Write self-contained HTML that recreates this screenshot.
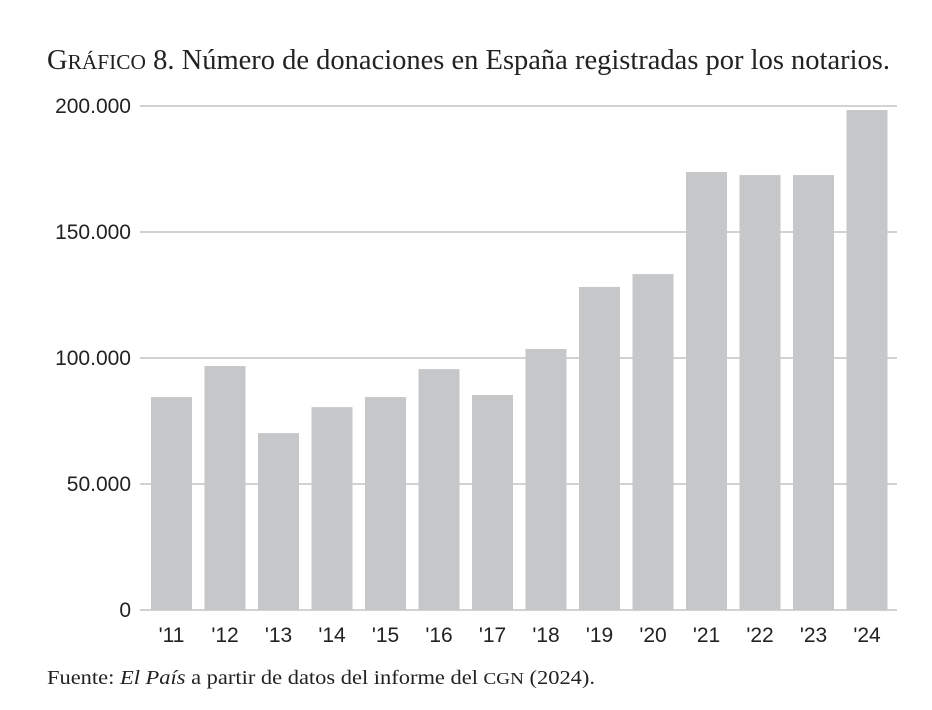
<!DOCTYPE html>
<html><head><meta charset="utf-8">
<style>
body{margin:0;background:#fff;width:932px;height:710px;overflow:hidden}
svg{display:block}
.t{font-family:"Liberation Serif",serif;fill:#222}
.a{font-family:"Liberation Sans",sans-serif;fill:#222;font-size:21px}
</style></head><body>
<svg id="c" width="932" height="710">
<text class="t" x="47" y="69" font-size="28" textLength="843" lengthAdjust="spacingAndGlyphs">G<tspan font-size="21">RÁFICO</tspan> 8. Número de donaciones en España registradas por los notarios.</text>
<text class="t" x="47" y="684" font-size="20" textLength="548" lengthAdjust="spacingAndGlyphs">Fuente: <tspan font-style="italic">El País</tspan> a partir de datos del informe del <tspan font-size="17">CGN</tspan> (2024).</text>
<g id="grid"></g><g id="bars"></g><g id="xl"></g>
</svg>
<script>
const categories=["'11","'12","'13","'14","'15","'16","'17","'18","'19","'20","'21","'22","'23","'24"];
const values=[84500,96800,70200,80500,84500,95600,85300,103600,128200,133300,173800,172600,172600,198400];
const ticks=[0,50000,100000,150000,200000];
const tickLabels=["0","50.000","100.000","150.000","200.000"];
const NS="http://www.w3.org/2000/svg";
const y=v=>610-v/200000*504;
const x=i=>151+i*53.5;
const bw=41;
function mk(t,a,p){const e=document.createElementNS(NS,t);for(const k in a)e.setAttribute(k,a[k]);p.appendChild(e);return e;}
const g=document.getElementById('grid');
ticks.forEach((t,i)=>{
 const l=mk('line',{x1:140,x2:897,y1:y(t),y2:y(t),stroke:'#c4c4c4','stroke-width':1.5},g);
 
 
 const tx=mk('text',{x:131,y:y(t)+7,'text-anchor':'end',class:'a'},g);
 tx.textContent=tickLabels[i];
 
 
});
const b=document.getElementById('bars'),xl=document.getElementById('xl');
values.forEach((v,i)=>{
 const r=mk('rect',{x:x(i),y:y(v),width:bw,height:610-y(v),fill:'#c6c7c9'},b);
 
 
 const t=mk('text',{x:x(i)+bw/2,y:642,'text-anchor':'middle',class:'a'},xl);
 t.textContent=categories[i];
 
 
});
</script>
</body></html>
